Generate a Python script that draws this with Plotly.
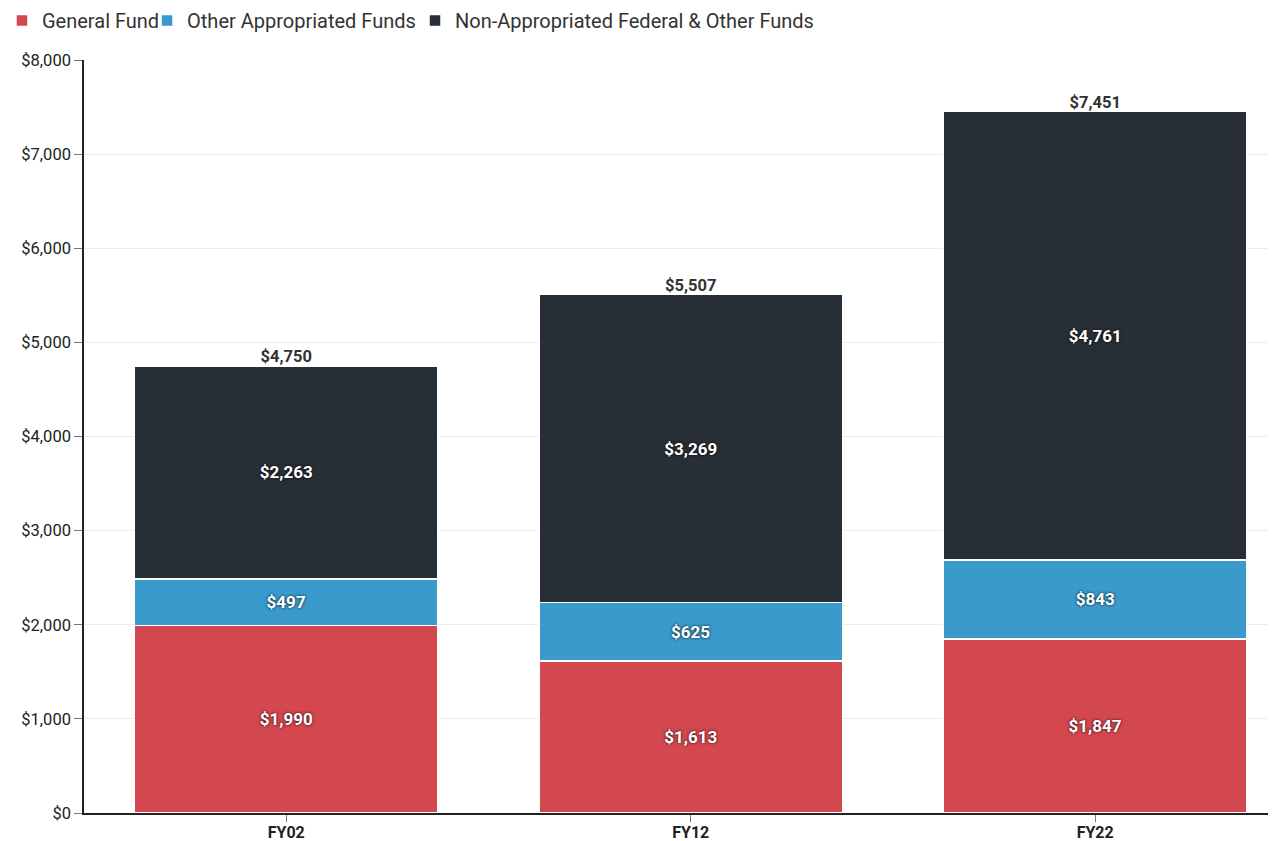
import plotly.graph_objects as go

categories = ["FY02", "FY12", "FY22"]
general_fund = [1990, 1613, 1847]
other_appropriated = [497, 625, 843]
non_appropriated = [2263, 3269, 4761]
totals = [4750, 5507, 7451]
series_names = ["General Fund", "Other Appropriated Funds", "Non-Appropriated Federal & Other Funds"]
colors = ["#D3474E", "#3A9ACB", "#282E36"]
y_ticks = [0, 1000, 2000, 3000, 4000, 5000, 6000, 7000, 8000]
y_tick_labels = [f"${v:,}" for v in y_ticks]

# one legend per series so each entry can be placed like the original
legend_ids = ["legend", "legend2", "legend3"]
legend_x = [-0.0688, 0.0529, 0.2777]

fig = go.Figure()
for name, vals, col, lid in zip(series_names, [general_fund, other_appropriated, non_appropriated], colors, legend_ids):
    fig.add_trace(go.Bar(
        x=categories, y=vals, name=name, legend=lid,
        marker=dict(color=col, line=dict(color="white", width=1.5)),
        text=[f"${v:,}" for v in vals], textposition="inside", insidetextanchor="middle",
        textfont=dict(family="Roboto", size=17, color="white", weight="bold",
                      shadow="0px 0px 3px rgba(0,0,0,0.9)"),
        hoverinfo="skip",
    ))

fig.add_trace(go.Scatter(
    x=categories, y=totals, mode="text", text=[f"${v:,}" for v in totals],
    textposition="top center", showlegend=False,
    textfont=dict(family="Roboto", size=16.5, color="#333333", weight="bold"),
    hoverinfo="skip",
))

legend_common = dict(orientation="h", yref="paper", y=1.0525, xref="paper",
                     xanchor="left", yanchor="middle", bgcolor="rgba(0,0,0,0)",
                     font=dict(family="Roboto", size=20, color="#333333"))
layout_legends = {}
for lid, lx in zip(legend_ids, legend_x):
    layout_legends[lid] = dict(legend_common, x=lx)

fig.update_layout(
    barmode="stack", bargap=0.25,
    width=1268, height=833,
    margin=dict(l=76, r=0, t=52, b=28, autoexpand=False),
    plot_bgcolor="white", paper_bgcolor="white",
    font=dict(family="Roboto", color="#333333", size=17),
    xaxis=dict(range=[-0.5, 2.447], showline=True, linecolor="#222222", linewidth=1.5,
               ticks="outside", ticklen=7, tickcolor="#777777", automargin=False,
               ticklabelstandoff=-3,
               tickfont=dict(family="Roboto", size=16, color="#222222", weight="bold"),
               showgrid=False, fixedrange=True),
    yaxis=dict(range=[0, 8000], tickvals=y_ticks, ticktext=y_tick_labels,
               showline=True, linecolor="#222222", linewidth=1.5, automargin=False,
               ticks="outside", ticklen=8, tickcolor="#777777",
               gridcolor="#EBEBEB", zeroline=False,
               tickfont=dict(family="Roboto", size=16.5, color="#222222")),
    **layout_legends,
)

fig.write_html("out.html")
